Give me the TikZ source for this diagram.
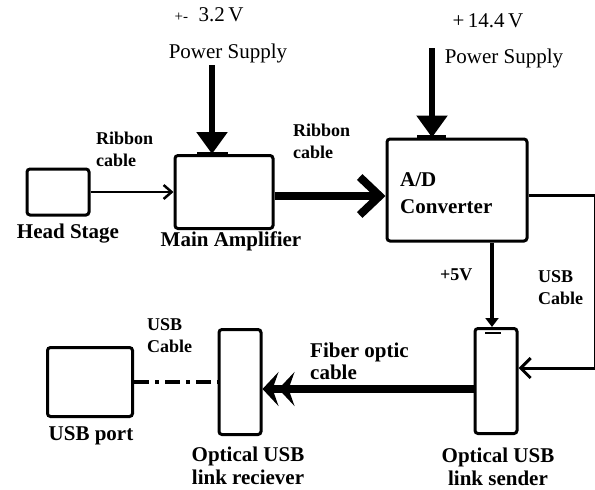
\documentclass[tikz,border=0pt]{standalone}
\usepackage{fontspec}
\setmainfont{Liberation Serif}
\usetikzlibrary{arrows.meta}

\tikzset{
  block/.style={draw, line width=3pt, rounded corners=3pt, inner sep=0pt},
  lbl/.style={font=\fontsize{18}{22}\selectfont\bfseries, align=left, inner sep=0pt},
  caption/.style={font=\fontsize{21}{23}\selectfont\bfseries, align=center, inner sep=0pt},
  supply/.style={font=\fontsize{21}{24}\selectfont, inner sep=0pt},
}

\begin{document}
\begin{tikzpicture}[x=1pt, y=-1pt, line join=miter]
    \useasboundingbox (0,0) rectangle (595,490);

    % blocks
    \node[block, minimum width=62pt, minimum height=46pt] (headstage) at (58,192) {};
    \node[block, minimum width=98pt, minimum height=73pt] (mainamp) at (224,192) {};
    \node[block, minimum width=140pt, minimum height=102pt] (adc) at (457,190) {};
    \node[block, minimum width=42pt, minimum height=105pt] (sender) at (496,381) {};
    \node[block, minimum width=42pt, minimum height=105pt] (receiver) at (240,382) {};
    \node[block, minimum width=85pt, minimum height=69pt] (usbport) at (90,382) {};

    % captions
    \node[caption] (hslbl) at (68,234) {Head Stage};
    \node[caption] (malbl) at (231,241) {Main Amplifier};
    \node[caption] (uplbl) at (91,436) {USB port};
    \node[caption] (rxlbl) at (248,466) {Optical USB\\link reciever};
    \node[caption] (txlbl) at (498,467) {Optical USB\\link sender};
    \node[caption, align=left, anchor=west, font=\fontsize{21}{27}\selectfont\bfseries] (adclbl) at (400,193) {A/D\\Converter};

    % power supplies
    \node[supply] (v1) at (209,15) {{\fontsize{15}{18}\selectfont +-}\ \ 3.2\,V};
    \node[supply] (ps1lbl) at (228,53) {Power Supply};
    \node[supply] (v2) at (488,21) {+\,14.4\,V};
    \node[supply] (ps2lbl) at (504,58) {Power Supply};
    \coordinate (ps1) at (212,65);
    \coordinate (ps2) at (432,48);
    \draw[line width=6pt, -{Triangle[length=22pt,width=30pt]}] (ps1) -- (ps1 |- mainamp.north);
    \draw[line width=6pt, -{Triangle[length=22pt,width=30pt]}] (ps2) -- (ps2 |- adc.north);
    \draw[line width=4.5pt] ([xshift=-27pt]mainamp.north) -- ([xshift=4pt]mainamp.north);
    \draw[line width=4.5pt] ([xshift=-40pt]adc.north) -- ([xshift=-11pt]adc.north);

    % ribbon cables
    \draw[line width=2.5pt, -{Straight Barb[length=8pt,width=14pt]}] (headstage.east) -- (headstage.east -| mainamp.west);
    \node[lbl, anchor=west] (rib1) at (96,149) {Ribbon\\cable};
    \draw[line width=8pt, -{Straight Barb[length=20pt,width=38pt]}] ([yshift=-4pt]mainamp.east) -- ([yshift=-4pt]mainamp.east -| adc.west);
    \node[lbl, anchor=west] (rib2) at (293,141) {Ribbon\\cable};

    % A/D to sender
    \draw[line width=4pt, -{Triangle[length=9pt,width=13pt]}] ([xshift=35pt]adc.south) -- ([xshift=-4pt]sender.north);
    \draw[line width=2.5pt] ([xshift=-11pt,yshift=-6pt]sender.north) -- ([xshift=5pt,yshift=-6pt]sender.north);
    \node[lbl, anchor=west] (v5) at (440,275) {+5V};
    \draw[line width=3pt, -{Straight Barb[length=10pt,width=20pt]}] ([yshift=-5pt]adc.east) -- ++(67,0) |- ([yshift=13pt]sender.east);
    \node[lbl, anchor=west] (usb1) at (538,288) {USB\\Cable};

    % fiber optic link
    \draw[line width=8pt, -{Stealth[length=16pt,width=34pt,inset=6pt]Stealth[length=16pt,width=34pt,inset=6pt]}] ([yshift=-8pt]sender.west) -- ([yshift=-8pt]sender.west -| receiver.east);
    \node[lbl, anchor=west, font=\fontsize{21}{22}\selectfont\bfseries] (fib) at (310,361) {Fiber optic\\cable};

    % usb to pc
    \draw[line width=4.5pt, dash pattern=on 15pt off 6pt on 4pt off 6pt] (usbport.east) -- (usbport.east -| receiver.west);
    \node[lbl, anchor=west] (usb2) at (147,336) {USB\\Cable};
\end{tikzpicture}
\end{document}
